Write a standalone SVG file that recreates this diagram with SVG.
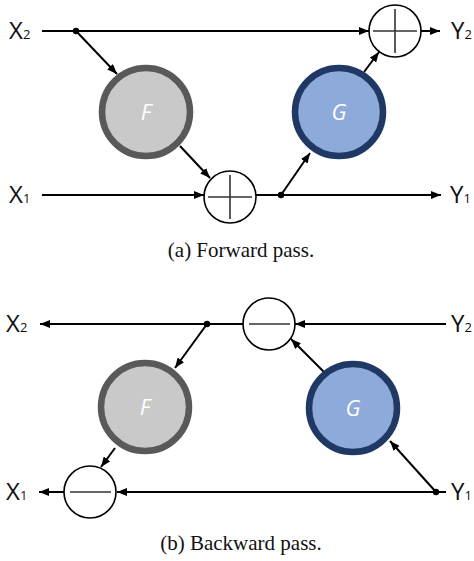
<svg xmlns="http://www.w3.org/2000/svg" width="474" height="561" viewBox="0 0 474 561">
<defs>
<marker id="ah" markerUnits="userSpaceOnUse" markerWidth="10" markerHeight="8" refX="10" refY="4" orient="auto">
<path d="M0,0 L10,4 L0,8 z" fill="#000"/>
</marker>
</defs>
<style>
.lbl{font-family:"Open Sans","Liberation Sans",sans-serif;font-size:24px;fill:#111}
.sub{font-size:13px}
.cap{font-family:"Liberation Serif","Times New Roman",serif;font-size:21px;fill:#111;text-anchor:middle}
.fn{fill:#c9c9c9;stroke:#595959;stroke-width:6.5}
.gn{fill:#8eaadb;stroke:#203864;stroke-width:6.5}
.fnt{font-family:"Open Sans","Liberation Sans",sans-serif;font-size:22px;font-style:italic;fill:#fff;text-anchor:middle}
.op{fill:#fff;stroke:#000;stroke-width:1.6}
.bar{stroke:#333;stroke-width:1.6}
.ar{stroke:#000;stroke-width:2;fill:none;marker-end:url(#ah)}
</style>
<rect width="474" height="561" fill="#fff"/>

<g id="connectors">
<!-- forward -->
<path class="ar" d="M42,31 H369"/>
<path class="ar" d="M76,31 L117,74"/>
<path class="ar" d="M180,146 L210,178"/>
<path class="ar" d="M42,195 H204"/>
<path class="ar" d="M256,195 H441"/>
<path class="ar" d="M281,195 L310,153"/>
<path class="ar" d="M364,72 L379,52"/>
<path class="ar" d="M421,31 H440"/>
<circle cx="76" cy="31" r="3.2" fill="#000"/>
<circle cx="281" cy="195" r="3.2" fill="#000"/>
<!-- backward -->
<path class="ar" d="M243,324 H40"/>
<path class="ar" d="M207,324 L175,368"/>
<path class="ar" d="M446,324 H295"/>
<path class="ar" d="M324,372 L291,339"/>
<path class="ar" d="M64,492 H39"/>
<path class="ar" d="M446,492 H117"/>
<path class="ar" d="M436,492 L390,441"/>
<path class="ar" d="M115,448 L101,467"/>
<circle cx="207" cy="324" r="3.2" fill="#000"/>
<circle cx="436" cy="492" r="3.2" fill="#000"/>
</g>

<g id="fwd-F"><circle class="fn" cx="146" cy="112" r="44"/><text class="fnt" x="146" y="120">F</text></g>
<g id="fwd-G"><circle class="gn" cx="339" cy="112" r="44"/><text class="fnt" x="339" y="120">G</text></g>
<g id="fwd-add-top"><circle class="op" cx="395" cy="31" r="26"/><path class="bar" d="M373,31 H417 M395,9 V53"/></g>
<g id="fwd-add-mid"><circle class="op" cx="230" cy="197" r="26"/><path class="bar" d="M208,197 H252 M230,175 V219"/></g>
<g id="fwd-labels">
<text class="lbl" x="9" y="39">X<tspan class="sub">2</tspan></text>
<text class="lbl" x="9" y="203">X<tspan class="sub">1</tspan></text>
<text class="lbl" x="451" y="39">Y<tspan class="sub">2</tspan></text>
<text class="lbl" x="450" y="203">Y<tspan class="sub">1</tspan></text>
</g>
<text class="cap" x="241" y="257">(a) Forward pass.</text>

<g id="bwd-F"><circle class="fn" cx="145" cy="407" r="44"/><text class="fnt" x="145" y="415">F</text></g>
<g id="bwd-G"><circle class="gn" cx="353" cy="408" r="44"/><text class="fnt" x="353" y="416">G</text></g>
<g id="bwd-sub-top"><circle class="op" cx="269" cy="324" r="26"/><path class="bar" d="M249,324 H290"/></g>
<g id="bwd-sub-bot"><circle class="op" cx="90" cy="492" r="26"/><path class="bar" d="M70,492 H111"/></g>
<g id="bwd-labels">
<text class="lbl" x="6" y="332">X<tspan class="sub">2</tspan></text>
<text class="lbl" x="6" y="500">X<tspan class="sub">1</tspan></text>
<text class="lbl" x="451" y="332">Y<tspan class="sub">2</tspan></text>
<text class="lbl" x="451" y="500">Y<tspan class="sub">1</tspan></text>
</g>
<text class="cap" x="241" y="550">(b) Backward pass.</text>
</svg>
